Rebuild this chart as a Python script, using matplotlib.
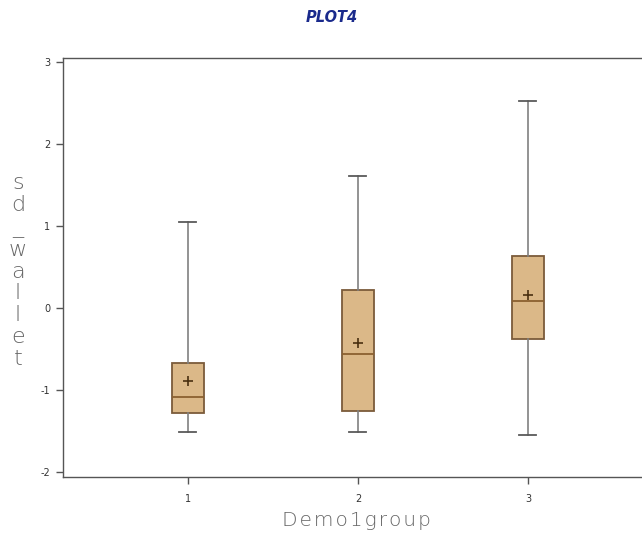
import matplotlib
matplotlib.use("Agg")
import matplotlib.pyplot as plt

groups = ["1", "2", "3"]
whisker_low = [-1.51, -1.51, -1.55]
q1 = [-1.285, -1.25, -0.38]
median = [-1.09, -0.56, 0.085]
mean = [-0.89, -0.42, 0.16]
q3 = [-0.675, 0.22, 0.63]
whisker_high = [1.05, 1.61, 2.52]
yticks = [-2, -1, 0, 1, 2, 3]

fig = plt.figure(figsize=(6.42, 5.41), dpi=100)
ax = fig.add_axes([0.098, 0.1183, 0.927, 0.7745])

stats = []
for i, g in enumerate(groups):
    stats.append(dict(label=g, whislo=whisker_low[i], q1=q1[i], med=median[i],
                      q3=q3[i], whishi=whisker_high[i], mean=mean[i], fliers=[]))

fill = "#DBB888"
edge = "#7B5B3A"
ax.bxp(stats, positions=[1, 2, 3], widths=0.19, showmeans=True, patch_artist=True,
       boxprops=dict(facecolor=fill, edgecolor=edge, linewidth=1.3),
       medianprops=dict(color="#8B6030", linewidth=1.3),
       whiskerprops=dict(color="#808080", linewidth=1.2),
       capprops=dict(color="#5a5a5a", linewidth=1.3),
       capwidths=0.1,
       meanprops=dict(marker="+", markeredgecolor="#4a3010", markersize=7, markeredgewidth=1.2))

ax.set_xlim(0.265, 3.765)
ax.set_ylim(-2.06, 3.05)
ax.set_yticks(yticks)
ax.set_yticklabels([str(t) for t in yticks])
ax.set_xticks([1, 2, 3])
ax.set_xticklabels(groups)
ax.tick_params(axis="both", direction="out", length=5, width=1, colors="#555555",
               labelsize=7, labelcolor="#333333", pad=4)
ax.tick_params(axis="x", pad=7)
for s in ["left", "bottom", "top"]:
    ax.spines[s].set_color("#555555")
    ax.spines[s].set_linewidth(1.0)
ax.spines["right"].set_visible(False)

fig.text(0.517, 0.968, "PLOT4", ha="center", va="center", fontsize=10.5,
         fontweight="bold", fontstyle="oblique", color="#1A2A8C", family="DejaVu Sans")

fig.text(0.028, 0.499, "\n".join("sd_wallet"), ha="center", va="center", fontsize=16,
         color="#666666", linespacing=1.12, family="DejaVu Sans", fontweight="light")

fig.text(0.555, 0.037, "\u200a".join("Demo1group"), ha="center", va="center", fontsize=14.5,
         color="#666666", family="DejaVu Sans", fontweight="light")

fig.savefig("out.png", dpi=100)
